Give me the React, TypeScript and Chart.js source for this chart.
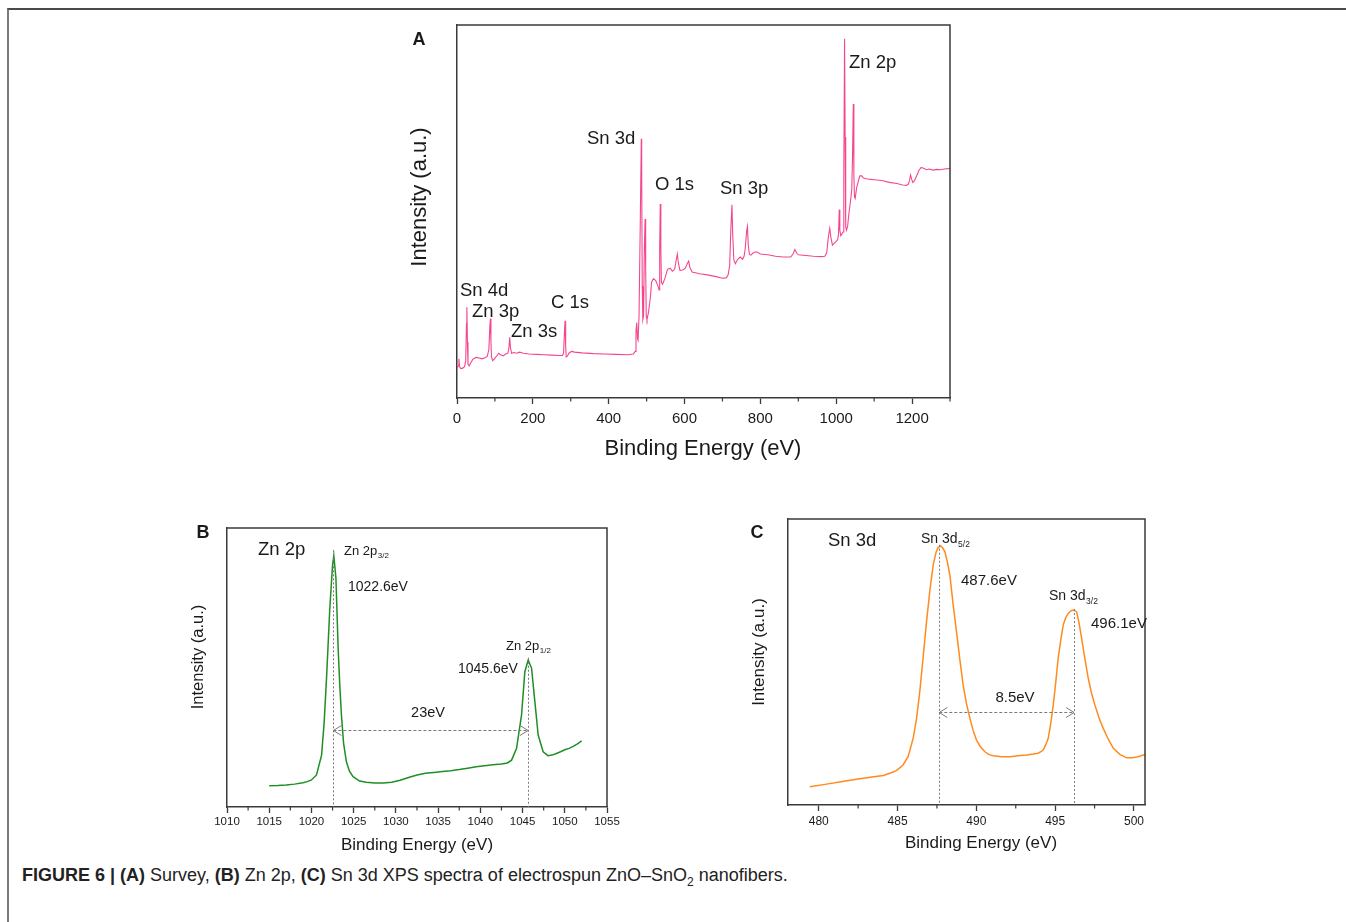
import React, { useEffect, useRef } from 'react';
import { Chart, registerables } from 'chart.js';

Chart.register(...registerables);

const FONT = 'Arial, "Liberation Sans", Helvetica, sans-serif';
const AXIS = '#3a3a3a';
const TEXT = '#1a1a1a';

// ---------------- Panel A: survey spectrum ----------------
const surveyEnergy = [
  0, 3, 5, 7, 10, 15, 20, 23, 25, 26, 27.5, 29, 32, 36, 42, 50, 58, 66, 74, 80,
  84, 86.5, 88, 89.5, 91, 94, 98, 104, 110, 115, 122, 128, 134, 137, 139, 141, 144, 150, 158, 165,
  175, 190, 210, 230, 250, 270, 278, 281, 283, 285, 286.5, 288, 291, 295, 302, 310, 330, 360, 390, 420,
  450, 465, 470, 472, 474, 476, 477.5, 480, 483, 486, 487, 488.5, 490, 492, 494, 496, 497.5, 499, 501, 505,
  510, 513, 518, 524, 530, 533, 534.5, 536, 537.5, 539, 542, 548, 555, 562, 568, 574, 578, 581, 584, 588,
  595, 602, 607, 611, 614, 620, 640, 660, 680, 700, 710, 715, 719, 722, 725, 727, 730, 734, 740, 747,
  753, 757, 760, 764, 766, 768, 771, 775, 782, 790, 800, 820, 840, 860, 880, 886, 891, 896, 900, 920,
  940, 960, 970, 975, 979, 983, 986, 990, 995, 1000, 1004, 1006, 1008, 1009.5, 1012, 1015, 1018, 1020, 1022, 1023.5,
  1025, 1027, 1030, 1034, 1038, 1041, 1043, 1045, 1046.5, 1048, 1050, 1054, 1058, 1062, 1066, 1072, 1080, 1090, 1100, 1120,
  1140, 1160, 1175, 1185, 1190, 1193, 1196, 1199, 1202, 1206, 1212, 1218, 1224, 1230, 1238, 1245, 1255, 1265, 1275, 1285,
  1295, 1300,
];
const surveyIntensity = [
  8.0, 8.6, 10.5, 8.3, 7.9, 8.0, 8.4, 10.0, 20.0, 24.3, 15.0, 9.0, 8.6, 9.4, 10.4, 10.9, 10.7, 10.5, 10.8, 11.2,
  13.0, 19.0, 21.3, 15.0, 11.0, 10.0, 10.4, 11.2, 12.0, 11.6, 11.3, 11.8, 12.0, 13.5, 16.3, 13.5, 12.0, 12.2, 12.0, 12.3,
  12.0, 11.8, 11.7, 11.6, 11.5, 11.4, 11.4, 12.0, 17.0, 20.7, 14.0, 11.0, 11.2, 12.0, 12.5, 12.3, 12.1, 11.9, 11.8, 11.7,
  11.6, 11.8, 12.5, 18.0, 20.2, 16.0, 15.5, 22.0, 45.0, 69.5, 60.0, 30.0, 21.0, 22.0, 40.0, 48.0, 35.0, 22.0, 21.0, 23.0,
  27.0, 31.0, 32.0, 31.5, 30.0, 29.0, 40.0, 52.0, 40.0, 31.0, 30.5, 32.0, 34.5, 34.8, 34.0, 34.5, 37.0, 38.6, 36.0, 34.2,
  34.3, 34.8, 36.0, 36.7, 35.0, 33.8, 33.3, 33.0, 32.6, 32.1, 32.2, 33.0, 35.5, 45.0, 51.8, 44.0, 37.0, 36.0, 37.2, 37.8,
  37.2, 38.0, 40.0, 45.0, 46.0, 41.0, 38.5, 38.3, 39.0, 39.2, 38.6, 38.4, 38.0, 37.8, 37.8, 38.6, 39.8, 38.8, 38.4, 38.2,
  38.0, 37.9, 38.0, 39.0, 43.0, 45.5, 43.0, 41.0, 41.5, 42.0, 42.5, 44.0, 50.5, 45.0, 43.5, 44.0, 44.5, 60.0, 96.3, 70.0,
  46.0, 45.0, 46.0, 50.0, 53.0, 56.0, 65.0, 78.8, 60.0, 54.0, 53.5, 56.5, 58.0, 59.5, 59.6, 59.0, 58.8, 58.6, 58.5, 58.3,
  57.8, 57.5, 57.1, 57.0, 57.3, 58.2, 59.8, 58.6, 57.8, 58.2, 59.5, 61.0, 61.8, 61.6, 61.2, 61.4, 61.1, 61.3, 61.2, 61.4,
  61.5, 61.6,
];
const surveyPeakNames = ['Sn 4d', 'Zn 3p', 'Zn 3s', 'C 1s', 'Sn 3d', 'O 1s', 'Sn 3p', 'Zn 2p'];

// ---------------- Panel B: Zn 2p ----------------
const zn2pEnergy = [
  1015, 1016, 1017, 1018, 1019, 1019.5, 1020, 1020.6, 1021.2, 1021.5, 1021.8, 1022.17, 1022.5, 1022.65, 1022.9, 1023.16,
  1023.35, 1023.55, 1023.8, 1024.14, 1024.5, 1024.93, 1025.7, 1026.5, 1027.5, 1028.5, 1029.5, 1030.5, 1031.5, 1032.5,
  1033.5, 1034.5, 1035.5, 1036.5, 1037.5, 1038.5, 1039.5, 1040.5, 1041.5, 1042.5, 1043.2, 1043.7, 1044.29, 1044.88,
  1045.27, 1045.67, 1046.07, 1046.46, 1046.85, 1047.44, 1048.0, 1048.5, 1049, 1049.5, 1050, 1050.5, 1051, 1051.5, 1052,
];
const zn2pIntensity = [
  7.6, 7.7, 7.9, 8.2, 8.7, 9.1, 9.7, 11.5, 18.6, 30.0, 47.0, 71.0, 86.7, 90.1, 82.0, 57.0,
  44.0, 33.0, 23.0, 16.2, 12.8, 10.9, 9.3, 8.9, 8.6, 8.6, 8.9, 9.6, 10.6, 11.5,
  12.1, 12.4, 12.7, 13.0, 13.4, 13.9, 14.4, 14.8, 15.1, 15.4, 15.8, 16.8, 21.0, 33.0,
  48.5, 52.7, 49.7, 37.7, 25.8, 19.8, 18.4, 18.6, 19.2, 19.8, 20.5, 21.0, 21.7, 22.6, 23.7,
];
const zn2pPeaks = [1022.6, 1045.65];
const zn2pPeakLabels = ['1022.6eV', '1045.6eV'];
const zn2pSplitting = '23eV';

// ---------------- Panel C: Sn 3d ----------------
const sn3dEnergy = [
  479.43, 480.5, 481.5, 482.5, 483.5, 484.1, 484.6, 484.93, 485.35, 485.67, 485.99, 486.2, 486.41, 486.63, 486.84, 487.05,
  487.26, 487.45, 487.58, 487.72, 487.85, 488.0, 488.16, 488.32, 488.53, 488.74, 488.95, 489.16, 489.37, 489.59, 489.8,
  490.01, 490.27, 490.54, 490.8, 491.07, 491.6, 492.13, 492.66, 493.19, 493.6, 493.92, 494.1, 494.24, 494.4, 494.56,
  494.72, 494.88, 495.04, 495.19, 495.35, 495.51, 495.67, 495.83, 496.0, 496.15, 496.36, 496.52, 496.68, 496.89, 497.1,
  497.31, 497.52, 497.78, 498.05, 498.37, 498.69, 499.1, 499.54, 499.9, 500.27, 500.7,
];
const sn3dIntensity = [
  6.4, 7.3, 8.2, 9.1, 9.9, 10.3, 11.3, 12.0, 14.0, 16.9, 23.3, 30.0, 39.6, 52.0, 64.1, 75.0,
  83.9, 88.5, 90.0, 90.6, 90.0, 88.6, 85.0, 80.4, 70.0, 60.6, 51.0, 42.0, 35.5, 30.3, 26.0,
  22.7, 20.3, 18.6, 17.6, 17.2, 16.9, 16.9, 17.2, 17.5, 17.8, 18.1, 18.7, 19.2, 21.0, 23.3,
  28.5, 35.0, 43.0, 51.3, 57.5, 62.9, 65.5, 67.0, 67.9, 68.2, 67.6, 63.5, 58.3, 51.0, 44.3,
  39.0, 35.0, 30.5, 26.8, 23.0, 19.8, 17.7, 16.5, 16.5, 16.9, 17.7,
];
const sn3dPeaks = [487.65, 496.2];
const sn3dPeakLabels = ['487.6eV', '496.1eV'];
const sn3dSplitting = '8.5eV';

const xTitle = 'Binding Energy (eV)';
const yTitle = 'Intensity (a.u.)';

// ---------------- drawing helpers ----------------
type Ctx = CanvasRenderingContext2D;

function label(
  ctx: Ctx, s: string, x: number, y: number, size: number,
  o: { bold?: boolean; align?: CanvasTextAlign; sub?: string; subSize?: number; rot?: number } = {},
) {
  ctx.save();
  ctx.fillStyle = TEXT;
  ctx.textBaseline = 'middle';
  ctx.font = `${o.bold ? 'bold ' : ''}${size}px ${FONT}`;
  ctx.translate(x, y);
  if (o.rot) ctx.rotate(o.rot);
  ctx.textAlign = o.align || 'left';
  ctx.fillText(s, 0, 0);
  if (o.sub) {
    const w = ctx.measureText(s).width;
    ctx.font = `${o.subSize || size * 0.6}px ${FONT}`;
    ctx.textAlign = 'left';
    ctx.fillText(o.sub, w + 0.5, size * 0.38);
  }
  ctx.restore();
}

function vDash(ctx: Ctx, chart: any, xv: number, yTop: number) {
  const x = Math.round(chart.scales.x.getPixelForValue(xv)) + 0.5;
  const y1 = chart.scales.y.getPixelForValue(yTop);
  ctx.save();
  ctx.strokeStyle = '#7a7a7a';
  ctx.lineWidth = 1;
  ctx.setLineDash([2, 2]);
  ctx.beginPath();
  ctx.moveTo(x, y1);
  ctx.lineTo(x, chart.chartArea.bottom);
  ctx.stroke();
  ctx.restore();
}

function dArrow(ctx: Ctx, chart: any, x1v: number, x2v: number, yv: number) {
  const x1 = chart.scales.x.getPixelForValue(x1v);
  const x2 = chart.scales.x.getPixelForValue(x2v);
  const y = Math.round(chart.scales.y.getPixelForValue(yv)) + 0.5;
  ctx.save();
  ctx.strokeStyle = '#7a7a7a';
  ctx.lineWidth = 1;
  ctx.setLineDash([3, 2]);
  ctx.beginPath();
  ctx.moveTo(x1, y);
  ctx.lineTo(x2, y);
  ctx.stroke();
  ctx.setLineDash([]);
  ctx.beginPath();
  ctx.moveTo(x1 + 8, y - 5);
  ctx.lineTo(x1, y);
  ctx.lineTo(x1 + 8, y + 5);
  ctx.moveTo(x2 - 8, y - 5);
  ctx.lineTo(x2, y);
  ctx.lineTo(x2 - 8, y + 5);
  ctx.stroke();
  ctx.restore();
}

type Panel = {
  box: { left: number; top: number; width: number; height: number };
  padTop: number;
  padRight: number;
  yAxisWidth: number;
  xAxisHeight: number;
  xMin: number;
  xMax: number;
  step: number;
  minorStep: number;
  tickSize: number;
  tickPad: number;
  energy: number[];
  intensity: number[];
  color: string;
  lineWidth: number;
  letter: { text: string; x: number; y: number; size: number };
  xT: { x: number; y: number; size: number };
  yT: { x: number; y: number; size: number };
  annotate: (ctx: Ctx, chart: any, p: (x: number, y: number) => [number, number]) => void;
};

const panelA: Panel = {
  box: { left: 400, top: 15, width: 560, height: 450 },
  padTop: 10, padRight: 10, yAxisWidth: 57, xAxisHeight: 67,
  xMin: 0, xMax: 1300, step: 200, minorStep: 100, tickSize: 15, tickPad: 6,
  energy: surveyEnergy, intensity: surveyIntensity, color: '#f4468f', lineWidth: 1.1,
  letter: { text: 'A', x: 419, y: 40, size: 18 },
  xT: { x: 703, y: 449, size: 22 },
  yT: { x: 420, y: 197, size: 22 },
  annotate: (ctx, chart, p) => {
    const pos: [number, number][] = [
      [460, 291], [472, 312], [511, 332], [551, 303], [587, 139], [655, 185], [720, 189], [849, 63],
    ];
    surveyPeakNames.forEach((n, i) => {
      const [x, y] = p(pos[i][0], pos[i][1]);
      label(ctx, n, x, y, 18.5);
    });
  },
};

const panelB: Panel = {
  box: { left: 180, top: 518, width: 445, height: 342 },
  padTop: 10, padRight: 18, yAxisWidth: 47, xAxisHeight: 53,
  xMin: 1010, xMax: 1055, step: 5, minorStep: 2.5, tickSize: 11.5, tickPad: 2,
  energy: zn2pEnergy, intensity: zn2pIntensity, color: '#1f8f24', lineWidth: 1.5,
  letter: { text: 'B', x: 203, y: 533, size: 18 },
  xT: { x: 417, y: 845, size: 17 },
  yT: { x: 198, y: 657, size: 16.5 },
  annotate: (ctx, chart, p) => {
    vDash(ctx, chart, zn2pPeaks[0], 92);
    vDash(ctx, chart, zn2pPeaks[1], 53.5);
    dArrow(ctx, chart, zn2pPeaks[0], zn2pPeaks[1], 27.6);
    let q = p(258, 550); label(ctx, 'Zn 2p', q[0], q[1], 18.5);
    q = p(344, 551); label(ctx, 'Zn 2p', q[0], q[1], 13, { sub: '3/2', subSize: 8 });
    q = p(348, 587); label(ctx, zn2pPeakLabels[0], q[0], q[1], 14);
    q = p(506, 646); label(ctx, 'Zn 2p', q[0], q[1], 13, { sub: '1/2', subSize: 8 });
    q = p(458, 669); label(ctx, zn2pPeakLabels[1], q[0], q[1], 14);
    q = p(428, 713); label(ctx, zn2pSplitting, q[0], q[1], 14.5, { align: 'center' });
  },
};

const panelC: Panel = {
  box: { left: 740, top: 509, width: 420, height: 351 },
  padTop: 10, padRight: 15, yAxisWidth: 48, xAxisHeight: 55,
  xMin: 478.05, xMax: 500.7, step: 5, minorStep: 2.5, tickSize: 12, tickPad: 3,
  energy: sn3dEnergy, intensity: sn3dIntensity, color: '#ff8a1e', lineWidth: 1.5,
  letter: { text: 'C', x: 757, y: 533, size: 18 },
  xT: { x: 981, y: 843, size: 17 },
  yT: { x: 759, y: 652, size: 17 },
  annotate: (ctx, chart, p) => {
    vDash(ctx, chart, sn3dPeaks[0], 91);
    vDash(ctx, chart, sn3dPeaks[1], 68.5);
    dArrow(ctx, chart, sn3dPeaks[0], sn3dPeaks[1], 32.4);
    let q = p(828, 541); label(ctx, 'Sn 3d', q[0], q[1], 18.5);
    q = p(921, 539); label(ctx, 'Sn 3d', q[0], q[1], 14, { sub: '5/2', subSize: 8.5 });
    q = p(961, 581); label(ctx, sn3dPeakLabels[0], q[0], q[1], 15);
    q = p(1049, 596); label(ctx, 'Sn 3d', q[0], q[1], 14, { sub: '3/2', subSize: 8.5 });
    q = p(1091, 624); label(ctx, sn3dPeakLabels[1], q[0], q[1], 15);
    q = p(1015, 698); label(ctx, sn3dSplitting, q[0], q[1], 15, { align: 'center' });
  },
};

function SpectrumPanel({ cfg }: { cfg: Panel }) {
  const ref = useRef<HTMLCanvasElement | null>(null);
  useEffect(() => {
    if (!ref.current) return;
    const { box } = cfg;
    const p = (x: number, y: number): [number, number] => [x - box.left, y - box.top];
    const deco = {
      id: 'deco',
      afterDraw(chart: any) {
        const ctx: Ctx = chart.ctx;
        const a = chart.chartArea;
        // top and right frame lines
        ctx.save();
        ctx.strokeStyle = AXIS;
        ctx.lineWidth = 1.5;
        ctx.beginPath();
        ctx.moveTo(a.left, a.top);
        ctx.lineTo(a.right, a.top);
        ctx.lineTo(a.right, a.bottom);
        ctx.stroke();
        // minor ticks
        ctx.lineWidth = 1.2;
        const xs = chart.scales.x;
        const n = Math.round((cfg.xMax - cfg.xMin) / cfg.minorStep) + 2;
        const start = Math.ceil(cfg.xMin / cfg.minorStep) * cfg.minorStep;
        for (let i = 0; i < n; i++) {
          const v = start + i * cfg.minorStep;
          if (v > cfg.xMax + 1e-6) break;
          if (Math.abs(v / cfg.step - Math.round(v / cfg.step)) < 1e-6) continue;
          const x = xs.getPixelForValue(v);
          ctx.beginPath();
          ctx.moveTo(x, a.bottom);
          ctx.lineTo(x, a.bottom + 3.5);
          ctx.stroke();
        }
        ctx.restore();
        // titles & letter
        let q = p(cfg.xT.x, cfg.xT.y);
        label(ctx, xTitle, q[0], q[1], cfg.xT.size, { align: 'center' });
        q = p(cfg.yT.x, cfg.yT.y);
        label(ctx, yTitle, q[0], q[1], cfg.yT.size, { align: 'center', rot: -Math.PI / 2 });
        q = p(cfg.letter.x, cfg.letter.y);
        label(ctx, cfg.letter.text, q[0], q[1], cfg.letter.size, { bold: true, align: 'center' });
        cfg.annotate(ctx, chart, p);
      },
    };
    const chart = new Chart(ref.current, {
      type: 'line',
      data: {
        datasets: [
          {
            data: cfg.energy.map((e, i) => ({ x: e, y: cfg.intensity[i] })),
            borderColor: cfg.color,
            borderWidth: cfg.lineWidth,
            pointRadius: 0,
            tension: 0,
            fill: false,
          },
        ],
      },
      options: {
        animation: false,
        responsive: false,
        devicePixelRatio: 1,
        layout: { padding: { top: cfg.padTop, right: cfg.padRight, left: 0, bottom: 0 } },
        plugins: { legend: { display: false }, tooltip: { enabled: false }, title: { display: false } },
        scales: {
          x: {
            type: 'linear',
            min: cfg.xMin,
            max: cfg.xMax,
            afterFit: (s: any) => { s.height = cfg.xAxisHeight; },
            border: { display: true, color: AXIS, width: 1.5 },
            grid: { display: true, drawOnChartArea: false, drawTicks: true, tickLength: 6, tickColor: AXIS, tickWidth: 1.3, color: AXIS },
            ticks: {
              stepSize: cfg.step,
              includeBounds: false,
              autoSkip: false,
              maxRotation: 0,
              padding: cfg.tickPad,
              color: TEXT,
              font: { family: FONT, size: cfg.tickSize },
              callback: (v: any) => String(v),
            },
            title: { display: false },
          },
          y: {
            type: 'linear',
            min: 0,
            max: 100,
            afterFit: (s: any) => { s.width = cfg.yAxisWidth; },
            border: { display: true, color: AXIS, width: 1.5 },
            grid: { display: false },
            ticks: { display: false },
            title: { display: false },
          },
        },
      },
      plugins: [deco],
    } as any);
    return () => chart.destroy();
  }, [cfg]);
  const { box } = cfg;
  return (
    <canvas
      ref={ref}
      width={box.width}
      height={box.height}
      style={{ position: 'absolute', left: box.left, top: box.top, width: box.width, height: box.height }}
    />
  );
}

export default function App() {
  return (
    <div style={{ position: 'absolute', left: 0, top: 0, width: 1346, height: 922, overflow: 'hidden', background: '#fff' }}>
      <div
        style={{
          position: 'absolute', left: 7, top: 8, width: 1339, height: 914, boxSizing: 'border-box',
          borderTop: '2px solid #4a4a4a', borderLeft: '2px solid #7a7a7a',
        }}
      />
      <SpectrumPanel cfg={panelA} />
      <SpectrumPanel cfg={panelB} />
      <SpectrumPanel cfg={panelC} />
      <div
        style={{
          position: 'absolute', left: 22, top: 864, fontFamily: FONT, fontSize: 18, color: '#222',
          whiteSpace: 'nowrap', lineHeight: '22px',
        }}
      >
        <b>FIGURE 6 | (A)</b> Survey, <b>(B)</b> Zn 2p, <b>(C)</b> Sn 3d XPS spectra of electrospun ZnO–SnO
        <span style={{ fontSize: 12, position: 'relative', top: 5 }}>2</span> nanofibers.
      </div>
    </div>
  );
}
